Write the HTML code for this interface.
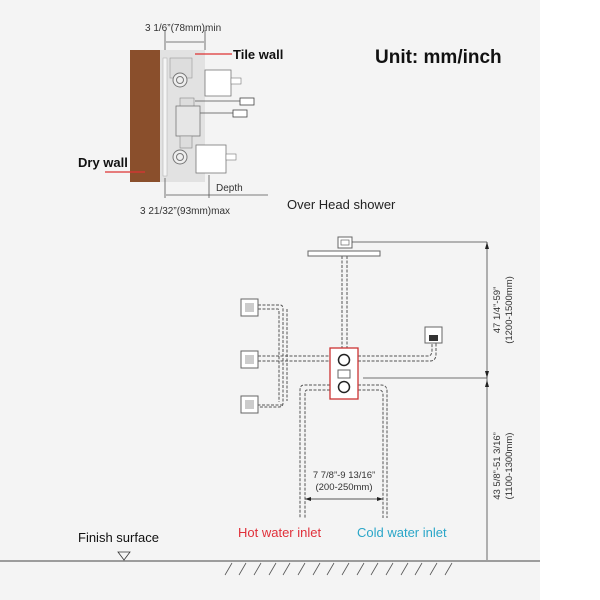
<!DOCTYPE html>
<html><head><meta charset="utf-8"><style>
html,body{margin:0;padding:0;background:#fff}
svg{display:block}
text{font-family:"Liberation Sans",sans-serif}
</style></head><body>
<svg width="600" height="600" viewBox="0 0 600 600" xmlns="http://www.w3.org/2000/svg">
<rect x="0" y="0" width="540" height="600" fill="#f4f4f4"/>
<rect x="540" y="0" width="60" height="600" fill="#fff"/>

<!-- top-left install diagram -->
<rect x="130" y="50" width="30" height="132" fill="#8a4f2c"/>
<rect x="160" y="50" width="45" height="132" fill="#e2e2e2"/>
<rect x="163" y="58" width="4" height="118" fill="#f5f5f5" stroke="#aaa" stroke-width="0.5"/>
<rect x="170" y="58" width="22" height="20" fill="#ddd" stroke="#999" stroke-width="0.6"/>
<circle cx="180" cy="80" r="7" fill="#eee" stroke="#777"/>
<circle cx="180" cy="80" r="3.5" fill="none" stroke="#777"/>
<rect x="205" y="70" width="26" height="26" fill="#fff" stroke="#777" stroke-width="0.8"/>
<rect x="231" y="78" width="10" height="6" fill="#fff" stroke="#777" stroke-width="0.6"/>
<rect x="180" y="98" width="14" height="14" fill="#ddd" stroke="#888" stroke-width="0.6"/>
<rect x="176" y="106" width="24" height="30" fill="#e6e6e6" stroke="#777" stroke-width="0.8"/>
<line x1="195" y1="101" x2="240" y2="101" stroke="#777"/>
<rect x="240" y="98" width="14" height="7" fill="#fff" stroke="#444" stroke-width="0.8"/>
<line x1="200" y1="113" x2="233" y2="113" stroke="#777"/>
<rect x="233" y="110" width="14" height="7" fill="#fff" stroke="#444" stroke-width="0.8"/>
<rect x="180" y="136" width="12" height="12" fill="#ddd" stroke="#888" stroke-width="0.6"/>
<circle cx="180" cy="157" r="7" fill="#eee" stroke="#777"/>
<circle cx="180" cy="157" r="3.5" fill="none" stroke="#777"/>
<rect x="196" y="145" width="30" height="28" fill="#fff" stroke="#777" stroke-width="0.8"/>
<rect x="226" y="154" width="10" height="6" fill="#fff" stroke="#777" stroke-width="0.6"/>
<line x1="165" y1="30" x2="165" y2="50" stroke="#555" stroke-width="0.8"/>
<line x1="205" y1="30" x2="205" y2="50" stroke="#555" stroke-width="0.8"/>
<line x1="166" y1="42" x2="204" y2="42" stroke="#555" stroke-width="0.8"/>
<text x="145" y="31" font-size="10" fill="#333">3 1/6”(78mm)min</text>
<line x1="195" y1="54" x2="232" y2="54" stroke="#d33" stroke-width="1.2"/>
<text x="233" y="59" font-size="13" font-weight="bold" fill="#111">Tile wall</text>
<text x="78" y="167" font-size="13" font-weight="bold" fill="#111">Dry wall</text>
<line x1="105" y1="172" x2="145" y2="172" stroke="#d33" stroke-width="1.2"/>
<line x1="165" y1="178" x2="165" y2="198" stroke="#555" stroke-width="0.8"/>
<line x1="209" y1="175" x2="209" y2="198" stroke="#555" stroke-width="0.8"/>
<line x1="166" y1="195" x2="268" y2="195" stroke="#555" stroke-width="0.8"/>
<text x="216" y="191" font-size="10" fill="#333">Depth</text>
<text x="140" y="214" font-size="10" fill="#333">3 21/32”(93mm)max</text>

<text x="375" y="63" font-size="19" font-weight="bold" fill="#111">Unit: mm/inch</text>
<text x="287" y="209" font-size="13" fill="#222">Over Head shower</text>

<!-- pipes (double dashed) -->
<g fill="none" stroke="#555" stroke-width="1" stroke-dasharray="3,1.5">
<path d="M342 256 V348 M347 256 V348"/>
<path d="M258 305 H280 Q283 305 283 309 V403 Q283 407 279 407 H258 M258 309 H278 Q279 309 279 313 V402"/>
<path d="M287 309 V401 M283 405 H258"/>
<path d="M258 356 H330 M258 361 H330"/>
<path d="M358 356 H428 Q432 356 432 350 V343 M358 361 H430 Q436 361 436 354 V343"/>
<path d="M330 385 H304 Q300 385 300 390 V518 M330 390 H307 Q305 390 305 394 V518"/>
<path d="M358 385 H381 Q387 385 387 391 V518 M358 390 H379 Q383 390 383 395 V518"/>
</g>

<!-- shower head -->
<rect x="338" y="237" width="14" height="11" fill="#fff" stroke="#666"/>
<rect x="341" y="240" width="8" height="5" fill="none" stroke="#666" stroke-width="0.7"/>
<rect x="308" y="251" width="72" height="5" fill="#fff" stroke="#666"/>
<line x1="352" y1="242" x2="487" y2="242" stroke="#444" stroke-width="0.8"/>

<!-- body jets -->
<g fill="#fff" stroke="#666">
<rect x="241" y="299" width="17" height="17"/>
<rect x="241" y="351" width="17" height="17"/>
<rect x="241" y="396" width="17" height="17"/>
</g>
<g fill="#999">
<rect x="245" y="303" width="9" height="9" opacity="0.5"/>
<rect x="245" y="355" width="9" height="9" opacity="0.5"/>
<rect x="245" y="400" width="9" height="9" opacity="0.5"/>
</g>
<!-- handheld -->
<rect x="425" y="327" width="17" height="16" fill="#fff" stroke="#666"/>
<rect x="429" y="335" width="9" height="6" fill="#333"/>

<!-- mixer -->
<rect x="330" y="348" width="28" height="51" fill="#fff" stroke="#c33" stroke-width="1.3"/>
<circle cx="344" cy="360" r="5.5" fill="none" stroke="#222" stroke-width="1.5"/>
<rect x="338" y="370" width="12" height="8" fill="none" stroke="#666"/>
<circle cx="344" cy="387" r="5.5" fill="none" stroke="#222" stroke-width="1.5"/>
<line x1="363" y1="378" x2="487" y2="378" stroke="#444" stroke-width="0.8"/>

<!-- vertical dims -->
<line x1="487" y1="242" x2="487" y2="560" stroke="#444" stroke-width="0.8"/>
<path d="M487 242 l-2 7 h4z M487 378 l-2 -7 h4z M487 380 l-2 7 h4z" fill="#222"/>
<text transform="translate(500,310) rotate(-90)" font-size="9.5" fill="#333" text-anchor="middle">47 1/4”-59”</text>
<text transform="translate(512,310) rotate(-90)" font-size="9.5" fill="#333" text-anchor="middle">(1200-1500mm)</text>
<text transform="translate(500,466) rotate(-90)" font-size="9.5" fill="#333" text-anchor="middle">43 5/8”-51 3/16”</text>
<text transform="translate(512,466) rotate(-90)" font-size="9.5" fill="#333" text-anchor="middle">(1100-1300mm)</text>

<!-- horizontal dim -->
<line x1="305" y1="499" x2="383" y2="499" stroke="#222" stroke-width="0.8"/>
<path d="M305 499 l6 -2 v4z M383 499 l-6 -2 v4z" fill="#222"/>
<text x="344" y="478" font-size="9.5" fill="#333" text-anchor="middle">7 7/8”-9 13/16”</text>
<text x="344" y="490" font-size="9.5" fill="#333" text-anchor="middle">(200-250mm)</text>

<text x="238" y="537" font-size="13" fill="#e0303a">Hot water inlet</text>
<text x="357" y="537" font-size="13" fill="#2aa6c8">Cold water inlet</text>
<text x="78" y="542" font-size="13" fill="#111">Finish surface</text>
<path d="M118 552 h12 l-6 8z" fill="none" stroke="#333" stroke-width="0.8"/>
<line x1="0" y1="561" x2="540" y2="561" stroke="#444" stroke-width="1"/>
<g stroke="#555" stroke-width="0.8">
<line x1="232" y1="563" x2="225" y2="575"/><line x1="246" y1="563" x2="239" y2="575"/><line x1="261" y1="563" x2="254" y2="575"/><line x1="276" y1="563" x2="269" y2="575"/><line x1="290" y1="563" x2="283" y2="575"/><line x1="305" y1="563" x2="298" y2="575"/><line x1="320" y1="563" x2="313" y2="575"/><line x1="334" y1="563" x2="327" y2="575"/><line x1="349" y1="563" x2="342" y2="575"/><line x1="364" y1="563" x2="357" y2="575"/><line x1="378" y1="563" x2="371" y2="575"/><line x1="393" y1="563" x2="386" y2="575"/><line x1="408" y1="563" x2="401" y2="575"/><line x1="422" y1="563" x2="415" y2="575"/><line x1="437" y1="563" x2="430" y2="575"/><line x1="452" y1="563" x2="445" y2="575"/>
</g>
</svg>
</body></html>
